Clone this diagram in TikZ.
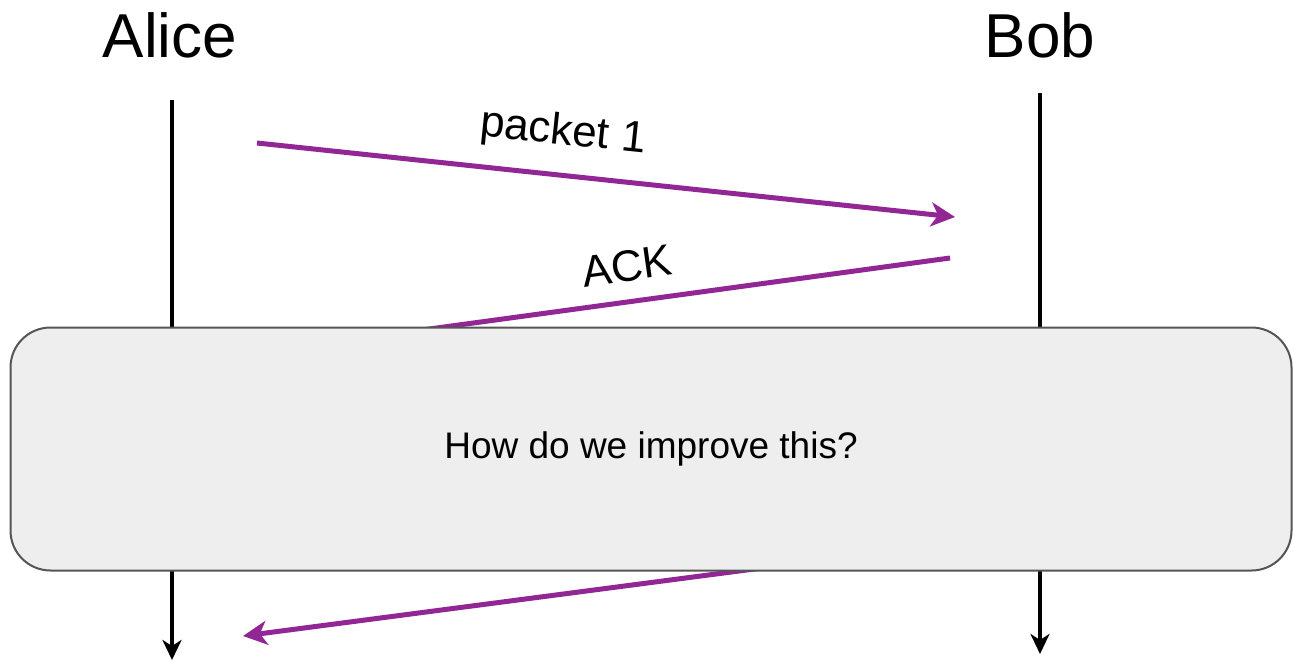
\documentclass[tikz,border=0pt]{standalone}
\usepackage{fontspec}
\setmainfont{Liberation Sans}
\usetikzlibrary{arrows.meta}
\definecolor{msgpurple}{RGB}{146,38,148}
\definecolor{boxfill}{RGB}{238,238,238}
\definecolor{boxline}{RGB}{85,85,85}
\begin{document}
\begin{tikzpicture}[x=1pt,y=-1pt,
  party/.style={font=\fontsize{62}{70}\selectfont},
  lifeline/.style={line width=4pt,-{Stealth[length=20pt,width=19pt,inset=6pt]}},
  msg/.style={line width=5pt,msgpurple,-{Stealth[length=24pt,width=24pt,inset=7pt]}},
  msgtext/.style={font=\fontsize{44}{50}\selectfont},
  qbox/.style={draw=boxline,line width=2pt,fill=boxfill,rounded corners=40pt,
    minimum width=1281pt,minimum height=243pt,font=\fontsize{37}{44}\selectfont}]
\useasboundingbox (0,0) rectangle (1293,661);
\node[party] (alice) at (170,35) {Alice};
\node[party] (bob) at (1040,35) {Bob};
\coordinate (aliceTop) at (172,100);
\coordinate (aliceEnd) at (172,660);
\coordinate (bobTop) at (1040,93);
\coordinate (bobEnd) at (1040,654);
\draw[lifeline] (aliceTop) -- (aliceEnd);
\draw[lifeline] (bobTop) -- (bobEnd);
% messages
\coordinate (pktStart) at (257,143);
\coordinate (pktEnd) at (955,217);
\draw[msg] (pktStart) -- (pktEnd);
\node[msgtext,rotate=-6] (pktlabel) at (563,133) {packet 1};
\coordinate (ackStart) at (950,258);
\coordinate (ackEnd) at (400,333);
\draw[line width=5pt,msgpurple] (ackStart) -- (ackEnd);
\node[msgtext,rotate=8] (acklabel) at (627,266) {ACK};
\coordinate (retStart) at (800,563);
\coordinate (retEnd) at (243,636);
\draw[msg] (retStart) -- (retEnd);
% the box on top
\node[qbox] (question) at (651,449) {How do we improve this?};
\end{tikzpicture}
\end{document}
